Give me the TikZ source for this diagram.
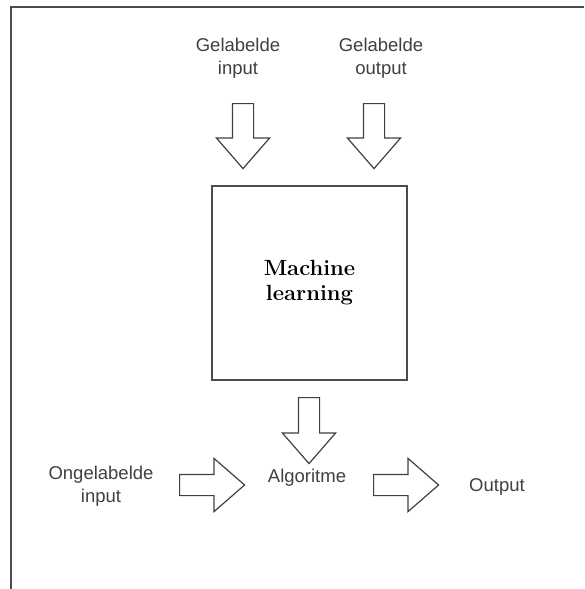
\documentclass[tikz,border=0pt]{standalone}
\usepackage{fontspec}
\usetikzlibrary{shapes.arrows}
\newfontfamily\labelfont{Liberation Sans}
\begin{document}
\begin{tikzpicture}[x=1pt, y=-1pt,
        tekst/.style={font=\labelfont\fontsize{18.5}{23}\selectfont, text=black!75, align=center},
        vak/.style={draw=black!70, line width=1.6pt, minimum width=195pt, minimum height=194pt,
            font=\bfseries\fontsize{22}{25}\selectfont, align=center},
        blokpijl/.style={draw=black!75, line width=1.2pt, single arrow, inner sep=10pt,
            single arrow head extend=16pt, single arrow tip angle=82,
            minimum height=65pt, anchor=tail}]
        \useasboundingbox (0,0) rectangle (584,589);

        % Rand
        \draw[black!70, line width=1.6pt] (11,589) -- (11,7) -- (584,7);

        % Gelabelde data
        \node[tekst] (gelIn) at (238,58) {Gelabelde\\input};
        \node[tekst] (gelUit) at (381,58) {Gelabelde\\output};
        \node[blokpijl, shape border rotate=270] (pijlIn) at (243,103) {};
        \node[blokpijl, shape border rotate=270] (pijlUit) at (374,103) {};

        % Machine learning
        \node[vak] (ml) at (309.5,283) {Machine\\learning};
        \node[blokpijl, shape border rotate=270, minimum height=66pt] (pijlMl) at (309,397) {};

        % Algoritme
        \node[tekst] (ongel) at (101,486) {Ongelabelde\\input};
        \node[blokpijl] (pijlOngel) at (179,485) {};
        \node[tekst] (algo) at (307,478) {Algoritme};
        \node[blokpijl] (pijlAlgo) at (373,485) {};
        \node[tekst] (uitvoer) at (497,487) {Output};
\end{tikzpicture}
\end{document}
